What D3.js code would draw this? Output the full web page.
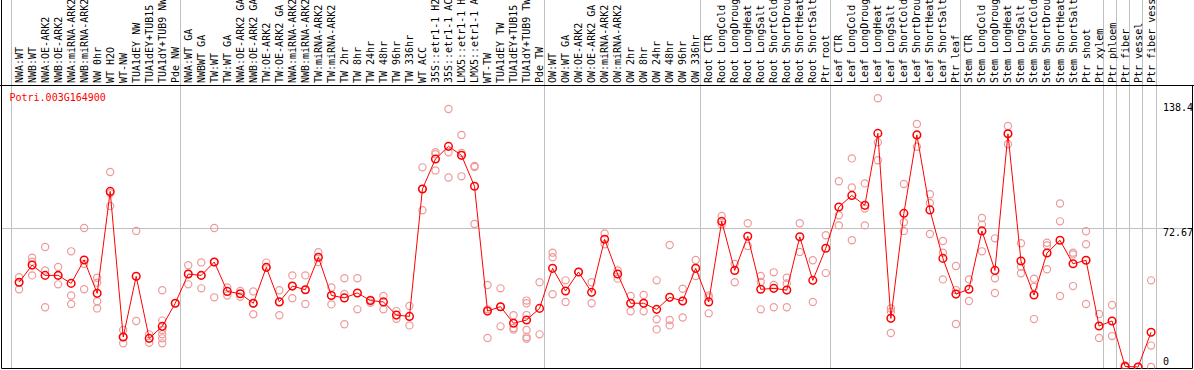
<!DOCTYPE html>
<html>
<head>
<meta charset="utf-8">
<script src="https://cdn.jsdelivr.net/npm/d3@7"></script>
<style>
  body { margin: 0; background: #fff; }
  svg { display: block; }
  text { font-family: "DejaVu Sans Mono", "Liberation Mono", monospace; font-size: 10px; }
</style>
</head>
<body>
<script>
const geneId = "Potri.003G164900";

const categories = [
  "NWA:WT", "NWB:WT", "NWA:OE-ARK2", "NWB:OE-ARK2", "NWA:miRNA-ARK2", "NWB:miRNA-ARK2",
  "NW 0hr", "WT H2O", "WT-NW", "TUA1dEY NW", "TUA1dEY+TUB15", "TUA1dY+TUB9 NW", "Pde NW",
  "NWA:WT GA", "NWBWT GA", "TW:WT", "TW:WT GA", "NWA:OE-ARK2 GA", "NWB:OE-ARK2 GA",
  "TW:OE-ARK2", "TW:OE-ARK2 GA", "NWA:miRNA-ARK2", "NWB:miRNA-ARK2", "TW:miRNA-ARK2",
  "TW:miRNA-ARK2", "TW 2hr", "TW 8hr", "TW 24hr", "TW 48hr", "TW 96hr", "TW 336hr",
  "WT ACC", "35S::etr1-1 H2O", "35S::etr1-1 ACC", "LMX5::etr1-1 H2O", "LMX5::etr1-1 ACC",
  "WT-TW", "TUA1dEY TW", "TUA1dEY+TUB15", "TUA1dY+TUB9 TW", "Pde TW",
  "OW:WT", "OW:WT GA", "OW:OE-ARK2", "OW:OE-ARK2 GA", "OW:miRNA-ARK2", "OW:miRNA-ARK2",
  "OW 2hr", "OW 8hr", "OW 24hr", "OW 48hr", "OW 96hr", "OW 336hr",
  "Root CTR", "Root LongCold", "Root LongDrought", "Root LongHeat", "Root LongSalt",
  "Root ShortCold", "Root ShortDrought", "Root ShortHeat", "Root ShortSalt", "Ptr root",
  "Leaf CTR", "Leaf LongCold", "Leaf LongDrought", "Leaf LongHeat", "Leaf LongSalt",
  "Leaf ShortCold", "Leaf ShortDrought", "Leaf ShortHeat", "Leaf ShortSalt", "Ptr leaf",
  "Stem CTR", "Stem LongCold", "Stem LongDrought", "Stem LongHeat", "Stem LongSalt",
  "Stem ShortCold", "Stem ShortDrought", "Stem ShortHeat", "Stem ShortSalt", "Ptr shoot",
  "Ptr xylem", "Ptr phloem", "Ptr fiber", "Ptr vessel", "Ptr fiber vessel"
];

// mean expression per sample
const means = [
  44.4, 53.4, 48.0, 48.0, 43.8, 56.1, 38.6, 92.0, 15.7, 47.5, 15.0, 21.3, 33.4,
  48.7, 48.0, 55.0, 39.6, 38.4, 33.4, 52.2, 34.1, 42.4, 40.5, 57.5, 37.5, 36.2,
  38.8, 34.8, 34.1, 27.2, 26.5, 93.3, 109.0, 115.6, 110.9, 94.7, 29.3, 31.6, 22.9,
  24.6, 30.7, 51.7, 39.8, 49.8, 39.1, 66.9, 48.7, 33.4, 33.4, 30.2, 36.5, 34.6,
  51.7, 34.1, 76.3, 50.6, 68.5, 40.7, 41.2, 40.3, 68.2, 45.4, 62.2, 83.8, 89.9,
  84.7, 122.4, 25.5, 80.5, 121.6, 82.3, 56.9, 38.2, 40.7, 71.3, 50.6, 122.2, 55.5,
  37.7, 59.7, 66.4, 54.1, 55.9, 21.5, 24.1, 0.3, 0, 18.2
];

// individual replicates per sample
const replicates = [
  [47.0, 44.2, 40.7], [57.3, 55.2, 48.0], [62.9, 50.6, 31.3], [52.4, 48.0, 43.3],
  [60.6, 37.5, 33.0], [72.8, 54.1, 40.7], [46.8, 44.2, 34.4, 30.7], [102.2, 91.0, 84.4],
  [19.4, 15.7, 12.4], [71.3, 24.1], [17.1, 12.7], [40.2, 24.3, 19.4, 17.1, 15.0, 12.4],
  [33.4], [53.3, 48.7, 43.3], [54.8, 48.0, 41.2], [72.8, 55.0, 36.5], [41.7, 37.4],
  [39.8, 36.8], [39.6, 33.4, 27.6], [54.7, 52.2], [40.2, 34.1, 27.1], [48.0, 42.4, 36.0],
  [48.0, 40.5, 33.0], [60.1, 55.0], [41.7, 32.8], [46.5, 38.3, 22.4], [46.5, 30.2],
  [35.3, 33.7], [37.2, 30.2], [29.3, 25.3], [32.0, 21.8], [104.6, 93.3, 82.1],
  [112.5, 111.5, 103.0], [135.2, 112.5, 99.3], [121.6, 112.1, 99.9], [105.3, 104.8, 74.9],
  [43.0, 30.2, 15.2], [41.2, 31.6, 21.3], [27.1, 20.4, 19.6],
  [34.8, 33.4, 27.2, 19.4, 15.7, 14.8], [44.4, 17.1], [59.9, 57.5, 38.1], [45.4, 34.1],
  [49.8], [44.4, 33.4], [70.0, 64.3], [50.6, 46.3], [37.2, 29.2], [37.7, 29.2],
  [45.4, 25.0, 19.7], [63.9, 24.6, 21.8], [41.0, 34.6, 25.9], [56.1, 47.7],
  [37.5, 36.5, 28.1], [79.1, 74.6], [54.0, 44.4], [75.3, 63.4], [47.7, 44.5, 30.2],
  [49.6, 43.0, 31.3], [46.8, 43.8, 31.3], [75.3, 60.3], [55.9, 34.1], [69.0, 49.2],
  [97.3, 79.5, 74.2], [109.3, 94.1, 66.4], [96.2, 83.0, 74.2], [140.8, 117.7, 108.3],
  [30.7, 29.0, 17.8], [95.9, 75.8, 71.3], [127.3, 121.6, 115.4], [90.5, 85.9, 69.7],
  [66.0, 59.9, 45.9], [52.9, 40.3, 22.5], [45.9, 34.6], [78.1, 74.6, 60.6],
  [67.4, 46.5, 38.8], [126.3, 122.2, 116.7], [64.8, 52.6, 49.1], [46.3, 42.1, 25.1],
  [65.1, 63.7, 51.2], [85.7, 76.3, 37.2], [59.9, 59.0, 42.4], [71.1, 64.3, 33.0],
  [27.8, 15.2], [32.5, 16.2], [0.9, 0], [0, 0], [45.4, 11.2, 0]
];

// sample index where each vertical separator sits
const groupBreaks = [0, 13, 41, 53, 63, 73, 84, 85, 86, 87, 88];

const yTicks = [0, 72.67, 138.4];

const width = 1194, height = 370;
const headerBottom = 85.5, plotBottom = 368.5, plotRight = 1155.5;

const svg = d3.select("body").append("svg")
  .attr("width", width)
  .attr("height", height);

const x = d3.scaleBand()
  .domain(d3.range(categories.length))
  .range([10.5, plotRight]);

const cx = i => x(i) + 8.6;
const breakX = k => Math.round(10.5 + x.step() * k) + 0.5;

const y = d3.scaleLinear()
  .domain([0, 138.4])
  .range([367, 102.85]);

svg.append("defs").append("clipPath")
  .attr("id", "plot-clip")
  .append("rect")
  .attr("x", 1.5).attr("y", headerBottom)
  .attr("width", width - 3).attr("height", plotBottom - headerBottom);

// separators between sample groups
svg.append("g")
  .selectAll("line")
  .data(groupBreaks)
  .enter()
  .append("line")
  .attr("x1", breakX).attr("x2", breakX)
  .attr("y1", 0).attr("y2", plotBottom)
  .attr("stroke", "#c0c0c0");

// middle reference line
svg.append("line")
  .attr("x1", 1.5).attr("x2", width - 1.5)
  .attr("y1", Math.round(y(yTicks[1])) + 0.5)
  .attr("y2", Math.round(y(yTicks[1])) + 0.5)
  .attr("stroke", "#c0c0c0");

// rotated sample labels
svg.append("g")
  .selectAll("text")
  .data(categories)
  .enter()
  .append("text")
  .attr("transform", (d, i) => `translate(${cx(i) + 3.5},83) rotate(-90)`)
  .attr("fill", "#000")
  .text(d => d);

// frame
const frame = svg.append("g").attr("stroke", "#000").attr("fill", "none");
frame.append("line").attr("x1", 1.5).attr("x2", 1.5).attr("y1", 0).attr("y2", plotBottom);
frame.append("line").attr("x1", 0).attr("x2", width).attr("y1", headerBottom).attr("y2", headerBottom);
frame.append("line").attr("x1", 1.5).attr("x2", width - 1.5).attr("y1", plotBottom).attr("y2", plotBottom);
frame.append("line").attr("x1", width - 1.5).attr("x2", width - 1.5).attr("y1", headerBottom).attr("y2", plotBottom);

svg.append("text")
  .attr("x", 9.5)
  .attr("y", 101)
  .attr("fill", "#ff0000")
  .text(geneId);

// y value labels on the right
svg.append("g")
  .selectAll("text")
  .data(yTicks)
  .enter()
  .append("text")
  .attr("x", 1163)
  .attr("y", d => d === 0 ? 365 : y(d) + 8)
  .attr("fill", "#000")
  .text(d => d);

const plot = svg.append("g").attr("clip-path", "url(#plot-clip)");

const repPoints = replicates.flatMap((r, i) => r.map(v => ({ i, v })));

plot.append("g")
  .selectAll("circle")
  .data(repPoints)
  .enter()
  .append("circle")
  .attr("cx", d => cx(d.i))
  .attr("cy", d => y(d.v))
  .attr("r", 3.6)
  .attr("fill", "none")
  .attr("stroke", "#ee9a9a")
  .attr("stroke-width", 1.2);

const line = d3.line()
  .x((d, i) => cx(i))
  .y(d => y(d));

plot.append("path")
  .datum(means)
  .attr("d", line)
  .attr("fill", "none")
  .attr("stroke", "#ff0000")
  .attr("stroke-width", 1);

plot.append("g")
  .selectAll("circle")
  .data(means)
  .enter()
  .append("circle")
  .attr("cx", (d, i) => cx(i))
  .attr("cy", d => y(d))
  .attr("r", 3.8)
  .attr("fill", "none")
  .attr("stroke", "#ff0000")
  .attr("stroke-width", 1.5);
</script>
</body>
</html>
